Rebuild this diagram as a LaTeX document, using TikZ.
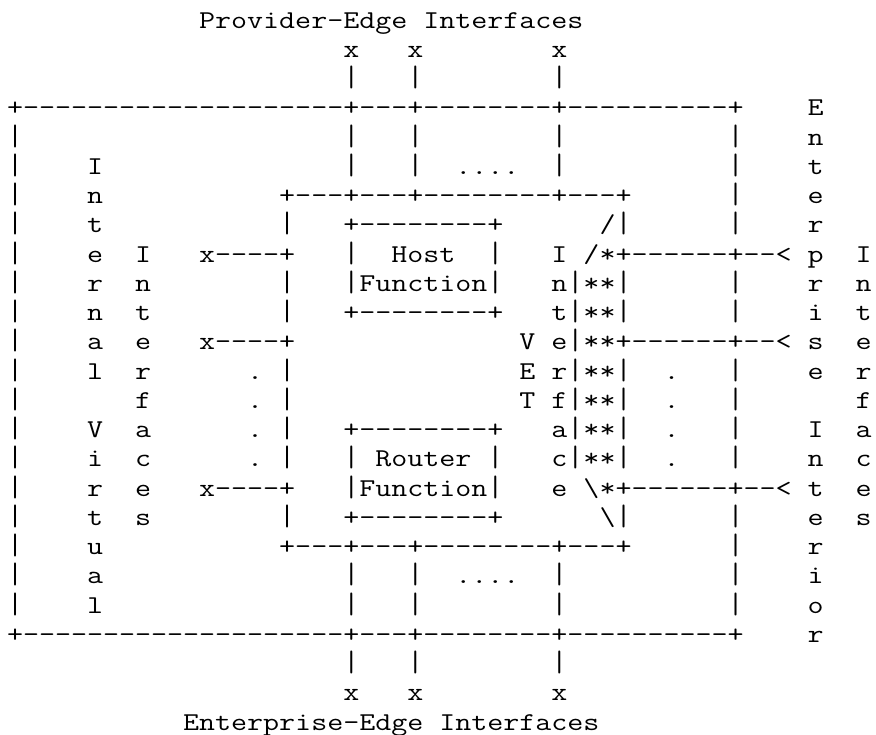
\documentclass[tikz,border=0pt]{standalone}
\usepackage{graphicx}
\usepackage{fontspec}
\setmonofont{Latin Modern Mono}[FakeStretch=1.2099]
\newlength\cw
\newcommand\gp[1]{\hspace*{#1\cw}}
\newcommand\vb{\scalebox{1}[1.15]{|}}
\newcommand\rowfont{\ttfamily\fontsize{25.7pt}{30pt}\selectfont}
\ExplSyntaxOn
\cs_new:Npn \dsh #1 {\prg_replicate:nn{#1}{-}}
\ExplSyntaxOff
\tikzset{
  asciirow/.style={anchor=base west, inner sep=0pt, outer sep=0pt, text=black,
    font=\rowfont}
}
\begin{document}
\settowidth\cw{\rowfont x}
\begin{tikzpicture}[x=1pt,y=1pt]
\fill[white] (0,0) rectangle (876,735);
\useasboundingbox (0,0) rectangle (876,735);
\node[asciirow] (r1) at (7,{736-29.25*1}) {\gp{12}Provider-Edge\gp{1}Interfaces};
\node[asciirow] (r2) at (7,{736-29.25*2}) {\gp{21}x\gp{3}x\gp{8}x};
\node[asciirow] (r3) at (7,{736-29.25*3}) {\gp{21}\vb\gp{3}\vb\gp{8}\vb};
\node[asciirow] (r4) at (7,{736-29.25*4}) {+\dsh{20}+\dsh{3}+\dsh{8}+\dsh{10}+\gp{4}E};
\node[asciirow] (r5) at (7,{736-29.25*5}) {\vb\gp{20}\vb\gp{3}\vb\gp{8}\vb\gp{10}\vb\gp{4}n};
\node[asciirow] (r6) at (7,{736-29.25*6}) {\vb\gp{4}I\gp{15}\vb\gp{3}\vb\gp{2}....\gp{2}\vb\gp{10}\vb\gp{4}t};
\node[asciirow] (r7) at (7,{736-29.25*7}) {\vb\gp{4}n\gp{11}+\dsh{3}+\dsh{3}+\dsh{8}+\dsh{3}+\gp{6}\vb\gp{4}e};
\node[asciirow] (r8) at (7,{736-29.25*8}) {\vb\gp{4}t\gp{11}\vb\gp{3}+\dsh{8}+\gp{6}/\vb\gp{6}\vb\gp{4}r};
\node[asciirow] (r9) at (7,{736-29.25*9}) {\vb\gp{4}e\gp{2}I\gp{3}x\dsh{4}+\gp{3}\vb\gp{2}Host\gp{2}\vb\gp{3}I\gp{1}/*+\dsh{6}+\dsh{2}<\gp{1}p\gp{2}I};
\node[asciirow] (r10) at (7,{736-29.25*10}) {\vb\gp{4}r\gp{2}n\gp{8}\vb\gp{3}\vb{}Function\vb\gp{3}n\vb{}**\vb\gp{6}\vb\gp{4}r\gp{2}n};
\node[asciirow] (r11) at (7,{736-29.25*11}) {\vb\gp{4}n\gp{2}t\gp{8}\vb\gp{3}+\dsh{8}+\gp{3}t\vb{}**\vb\gp{6}\vb\gp{4}i\gp{2}t};
\node[asciirow] (r12) at (7,{736-29.25*12}) {\vb\gp{4}a\gp{2}e\gp{3}x\dsh{4}+\gp{14}V\gp{1}e\vb{}**+\dsh{6}+\dsh{2}<\gp{1}s\gp{2}e};
\node[asciirow] (r13) at (7,{736-29.25*13}) {\vb\gp{4}l\gp{2}r\gp{6}.\gp{1}\vb\gp{14}E\gp{1}r\vb{}**\vb\gp{2}.\gp{3}\vb\gp{4}e\gp{2}r};
\node[asciirow] (r14) at (7,{736-29.25*14}) {\vb\gp{7}f\gp{6}.\gp{1}\vb\gp{14}T\gp{1}f\vb{}**\vb\gp{2}.\gp{3}\vb\gp{7}f};
\node[asciirow] (r15) at (7,{736-29.25*15}) {\vb\gp{4}V\gp{2}a\gp{6}.\gp{1}\vb\gp{3}+\dsh{8}+\gp{3}a\vb{}**\vb\gp{2}.\gp{3}\vb\gp{4}I\gp{2}a};
\node[asciirow] (r16) at (7,{736-29.25*16}) {\vb\gp{4}i\gp{2}c\gp{6}.\gp{1}\vb\gp{3}\vb\gp{1}Router\gp{1}\vb\gp{3}c\vb{}**\vb\gp{2}.\gp{3}\vb\gp{4}n\gp{2}c};
\node[asciirow] (r17) at (7,{736-29.25*17}) {\vb\gp{4}r\gp{2}e\gp{3}x\dsh{4}+\gp{3}\vb{}Function\vb\gp{3}e\gp{1}\textbackslash*+\dsh{6}+\dsh{2}<\gp{1}t\gp{2}e};
\node[asciirow] (r18) at (7,{736-29.25*18}) {\vb\gp{4}t\gp{2}s\gp{8}\vb\gp{3}+\dsh{8}+\gp{6}\textbackslash\vb\gp{6}\vb\gp{4}e\gp{2}s};
\node[asciirow] (r19) at (7,{736-29.25*19}) {\vb\gp{4}u\gp{11}+\dsh{3}+\dsh{3}+\dsh{8}+\dsh{3}+\gp{6}\vb\gp{4}r};
\node[asciirow] (r20) at (7,{736-29.25*20}) {\vb\gp{4}a\gp{15}\vb\gp{3}\vb\gp{2}....\gp{2}\vb\gp{10}\vb\gp{4}i};
\node[asciirow] (r21) at (7,{736-29.25*21}) {\vb\gp{4}l\gp{15}\vb\gp{3}\vb\gp{8}\vb\gp{10}\vb\gp{4}o};
\node[asciirow] (r22) at (7,{736-29.25*22}) {+\dsh{20}+\dsh{3}+\dsh{8}+\dsh{10}+\gp{4}r};
\node[asciirow] (r23) at (7,{736-29.25*23}) {\gp{21}\vb\gp{3}\vb\gp{8}\vb};
\node[asciirow] (r24) at (7,{736-29.25*24}) {\gp{21}x\gp{3}x\gp{8}x};
\node[asciirow] (r25) at (7,{736-29.25*25}) {\gp{11}Enterprise-Edge\gp{1}Interfaces};
\end{tikzpicture}
\end{document}
